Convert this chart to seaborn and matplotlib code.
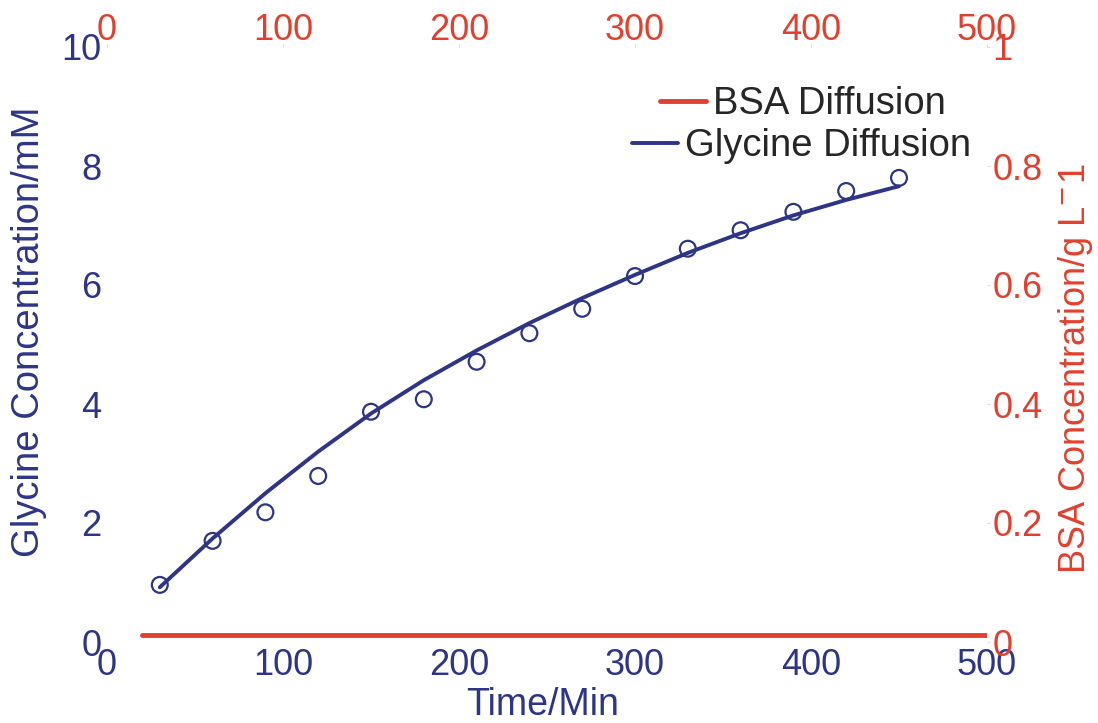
import numpy as np
import pandas as pd
import matplotlib
matplotlib.use("Agg")
import matplotlib.pyplot as plt
import seaborn as sns

# data
time_min = [30, 60, 90, 120, 150, 180, 210, 240, 270, 300, 330, 360, 390, 420, 450]
glycine_measured = [0.96, 1.70, 2.18, 2.79, 3.87, 4.08, 4.71, 5.19, 5.60, 6.15, 6.61, 6.92, 7.23, 7.58, 7.80]
glycine_fit = [0.92, 1.74, 2.50, 3.20, 3.84, 4.40, 4.90, 5.36, 5.78, 6.17, 6.54, 6.87, 7.17, 7.43, 7.66]
bsa_time = [20, 100, 200, 300, 400, 500]
bsa_conc = [0.011, 0.011, 0.011, 0.011, 0.011, 0.011]

left_ticks = [0, 2, 4, 6, 8, 10]
right_ticks = [0, 0.2, 0.4, 0.6, 0.8, 1]
right_labels = ["0", "0.2", "0.4", "0.6", "0.8", "1"]
x_ticks = [0, 100, 200, 300, 400, 500]

gly = pd.DataFrame({"t": time_min, "meas": glycine_measured, "fit": glycine_fit})
bsa = pd.DataFrame({"t": bsa_time, "c": bsa_conc})

blue = "#2e3487"
red = "#e2402e"

sns.set_style("white")
plt.rcParams['font.family'] = ['Liberation Sans', 'DejaVu Sans']
fs = 26

fig = plt.figure(figsize=(10.98, 7.23), dpi=100)
pos = [107 / 1098, 81 / 723, 880 / 1098, 595 / 723]
ax = fig.add_axes(pos)
ax2 = fig.add_axes(pos)
ax2.patch.set_alpha(0)

# glycine on the bottom/left axes
sns.lineplot(data=gly, x="t", y="fit", ax=ax, color=blue, lw=2.8, label="Glycine Diffusion")
sns.scatterplot(data=gly, x="t", y="meas", ax=ax, marker="o", s=130,
                facecolor="none", edgecolor=blue, linewidth=1.6, zorder=3)
ax.set_xlim(0, 500)
ax.set_ylim(0, 10)
ax.set_xticks(x_ticks)
ax.set_yticks(left_ticks)
ax.tick_params(colors=blue, labelsize=fs, length=2, color="#dddddd", pad=2)
ax.set_xlabel("Time/Min", fontsize=27, color=blue)
ax.set_ylabel("Glycine Concentration/mM", fontsize=27.5, color=blue)
ax.xaxis.set_label_coords(0.495, -0.075)
ax.yaxis.set_label_coords(-0.068, 0.521)

# BSA on the top/right axes
sns.lineplot(data=bsa, x="t", y="c", ax=ax2, color=red, lw=3.5, label="BSA Diffusion")
ax2.set_xlim(0, 500)
ax2.set_ylim(0, 1)
ax2.xaxis.tick_top()
ax2.yaxis.tick_right()
ax2.xaxis.set_label_position("top")
ax2.yaxis.set_label_position("right")
ax2.set_xticks(x_ticks)
ax2.set_yticks(right_ticks)
ax2.set_yticklabels(right_labels)
ax2.tick_params(colors=red, labelsize=fs, length=2, color="#dddddd", pad=2)
ax2.tick_params(axis="x", pad=-3)
ax2.set_xlabel("")
ax2.set_ylabel("BSA Concentration/g L$^{-}$1", fontsize=26, color=red)
ax2.yaxis.set_label_coords(1.078, 0.46)

for a in (ax, ax2):
    for s in a.spines.values():
        s.set_visible(False)

ax2.legend(loc="upper right", bbox_to_anchor=(0.886, 0.918), bbox_transform=fig.transFigure,
           frameon=False, fontsize=27.5, handlelength=1.2, handletextpad=0.2, borderpad=0.2)
ax.legend(loc="upper right", bbox_to_anchor=(0.909, 0.860), bbox_transform=fig.transFigure,
          frameon=False, fontsize=27.5, handlelength=1.2, handletextpad=0.2, borderpad=0.2)

fig.savefig("out.png", dpi=100)
